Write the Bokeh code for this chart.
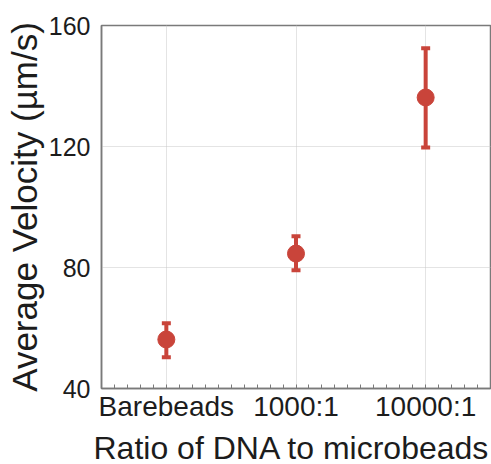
import numpy as np
from bokeh.plotting import figure
from bokeh.models import ColumnDataSource, FixedTicker, Whisker, TeeHead, Range1d, Title
from bokeh.embed import file_html
from bokeh.resources import INLINE

categories = ["Barebeads", "1000:1", "10000:1"]
velocity = [56.2, 84.6, 136.2]
err_upper = [61.6, 90.3, 152.5]
err_lower = [50.3, 79.1, 119.7]
y_ticks = [40, 80, 120, 160]

xpos = list(range(1, len(categories) + 1))
src = ColumnDataSource(dict(x=xpos, y=velocity, up=err_upper, lo=err_lower))

RED = "#c9443a"
FONT = "Liberation Sans"
TXT = "#1c1c1c"
AX = "#7a7a7a"

p = figure(frame_width=389, frame_height=363, output_backend="svg", toolbar_location=None,
           x_range=Range1d(0.5, 3.5), y_range=Range1d(40, 160),
           min_border_left=101, min_border_right=1, min_border_top=25, min_border_bottom=75)
p.background_fill_color = "white"
p.border_fill_color = "white"
p.outline_line_color = AX
p.outline_line_width = 1.5

minor = [round(v, 2) for v in np.arange(0.6, 3.45, 0.1) if abs(v - round(v)) > 1e-6]
p.xaxis.ticker = FixedTicker(ticks=xpos, minor_ticks=minor)
p.xaxis.major_label_overrides = {x: c for x, c in zip(xpos, categories)}
p.yaxis.ticker = FixedTicker(ticks=y_ticks)

for ax in (p.xaxis[0], p.yaxis[0]):
    ax.axis_line_color = AX
    ax.axis_line_width = 1.5
    ax.major_label_text_font = FONT
    ax.axis_label_text_font = FONT
    ax.major_label_text_color = TXT
    ax.axis_label_text_color = TXT
    ax.axis_label_text_font_style = "normal"

p.xaxis.major_tick_in = 4
p.xaxis.major_tick_out = 0
p.xaxis.minor_tick_in = 4
p.xaxis.minor_tick_out = 0
p.xaxis.major_tick_line_color = AX
p.xaxis.minor_tick_line_color = AX
p.xaxis.major_label_text_font_size = "28px"
p.xaxis.major_label_standoff = 2

xtitle = Title(text="Ratio of DNA to microbeads", align="left", offset=-8,
               text_font=FONT, text_font_size="32px", text_font_style="normal",
               text_color=TXT, standoff=6)
p.add_layout(xtitle, "below")

p.yaxis.major_tick_in = 0
p.yaxis.major_tick_out = 0
p.yaxis.minor_tick_line_color = None
p.yaxis.major_label_text_font_size = "25px"
p.yaxis.major_label_standoff = 11
p.yaxis.axis_label = "Average Velocity (µm/s)"
p.yaxis.axis_label_text_font_size = "35px"
p.yaxis.axis_label_standoff = 2

p.xgrid.ticker = FixedTicker(ticks=xpos)
p.ygrid.ticker = FixedTicker(ticks=y_ticks)
for g in (p.xgrid[0], p.ygrid[0]):
    g.grid_line_color = "#c8c8c8"
    g.grid_line_dash = "1 1"
    g.grid_line_width = 1

w = Whisker(source=src, base="x", upper="up", lower="lo",
            line_color=RED, line_width=4,
            upper_head=TeeHead(size=9, line_color=RED, line_width=4),
            lower_head=TeeHead(size=9, line_color=RED, line_width=4))
p.add_layout(w)
p.scatter("x", "y", source=src, size=17, color=RED, marker="circle")

open("out.html", "w").write(file_html(p, INLINE))
